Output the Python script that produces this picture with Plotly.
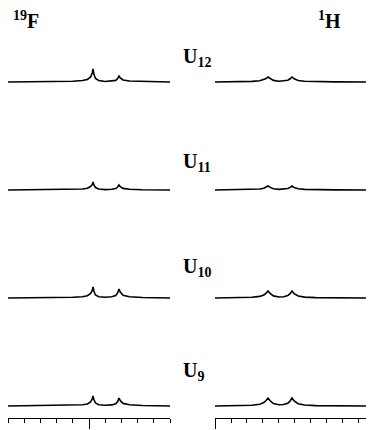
import plotly.graph_objects as go

# stacked spectra, 19F on the left and 1H on the right, U12 at top .. U9 at bottom
labels = ["U<sub>12</sub>", "U<sub>11</sub>", "U<sub>10</sub>", "U<sub>9</sub>"]
stack = [3, 2, 1, 0]  # vertical slot for each residue

# 19F chemical shift axis (arbitrary units, long tick at 0)
f_x = [-5.0, -2.0, -1.0, -0.4, -0.1, 0.1, 0.2, 0.25, 0.3, 0.4, 0.6,
       1.0, 1.4, 1.65, 1.77, 1.85, 1.93, 2.1, 2.5, 3.3, 5.0]
f_u12 = [0, 0.3, 0.8, 1.5, 2.5, 5, 9, 13, 8, 3.5, 1.5, 0.5, 0.8, 1.6, 3.5, 6, 4, 2, 1, 0.5, 0]
f_u11 = [0, 0.2, 0.5, 1, 1.8, 3.5, 5.5, 8, 5, 2.5, 1, 0.4, 0.7, 1.4, 3, 5, 3.3, 1.6, 0.8, 0.3, 0]
f_u10 = [0, 0.3, 0.7, 1.3, 2.3, 4.5, 7.5, 11, 7, 3, 1.3, 0.7, 1.2, 2.4, 5, 9, 6, 2.8, 1.3, 0.5, 0]
f_u9 = [0, 0.3, 0.6, 1.2, 2, 4, 7, 10, 6.5, 3, 1.3, 0.7, 1.1, 2.2, 4.5, 8, 5.5, 2.6, 1.2, 0.5, 0]

# 1H axis
h_x = [0, 1.5, 2.3, 2.8, 3.05, 3.2, 3.31, 3.45, 3.65, 4.0, 4.3, 4.55, 4.7,
       4.81, 4.95, 5.2, 5.6, 6.3, 7.5, 9.94]
h_u12 = [0, 0.2, 0.6, 1.2, 2.2, 3.5, 5, 3.3, 1.6, 0.8, 1.0, 1.8, 3.2, 5, 3.2, 1.5, 0.7, 0.3, 0.1, 0]
h_u11 = [0, 0.2, 0.5, 1.0, 1.8, 2.8, 4, 2.6, 1.3, 0.6, 0.8, 1.5, 2.6, 4, 2.6, 1.2, 0.6, 0.2, 0.1, 0]
h_u10 = [0, 0.3, 0.7, 1.6, 3.0, 4.8, 7, 4.6, 2.1, 1.0, 1.3, 2.5, 4.4, 7, 4.4, 2.0, 0.9, 0.4, 0.1, 0]
h_u9 = [0, 0.3, 0.8, 1.8, 3.5, 5.5, 8, 5.2, 2.4, 1.2, 1.5, 2.8, 5, 8, 5, 2.3, 1, 0.4, 0.1, 0]

f_ticks = [-5, -4, -3, -2, -1, 0, 1, 2, 3, 4, 5]
h_ticks = [0, 1, 2, 3, 4, 5, 6, 7, 8, 9]

gap = 108  # spacing between stacked spectra, in intensity units

# page body adds an 8px margin, so the figure is drawn 8px smaller
W, H = 366, 422
serif = "Liberation Serif, Times New Roman, serif"
label_px = [49, 154, 259, 363]  # vertical centre of each U label (figure pixels)

fig = go.Figure()
for slot, fy, hy in zip(stack, [f_u12, f_u11, f_u10, f_u9], [h_u12, h_u11, h_u10, h_u9]):
    fig.add_trace(go.Scatter(x=f_x, y=[v + slot * gap for v in fy], mode="lines",
                             line=dict(color="black", width=1.6), xaxis="x", yaxis="y",
                             showlegend=False, hoverinfo="skip"))
    fig.add_trace(go.Scatter(x=h_x, y=[v + slot * gap for v in hy], mode="lines",
                             line=dict(color="black", width=1.6), xaxis="x2", yaxis="y",
                             showlegend=False, hoverinfo="skip"))

annotations = []
for py, lab in zip(label_px, labels):
    annotations.append(dict(text="<b>" + lab + "</b>", x=173 / W, xref="paper", xanchor="left",
                            y=1 - py / H, yref="paper", yanchor="middle", showarrow=False,
                            font=dict(family=serif, size=20, color="black")))
annotations.append(dict(text="<b><sup>19</sup>F</b>", x=3 / W, xref="paper", xanchor="left",
                        y=1 - 12 / H, yref="paper", yanchor="middle", showarrow=False,
                        font=dict(family=serif, size=20, color="black")))
annotations.append(dict(text="<b><sup>1</sup>H</b>", x=308 / W, xref="paper", xanchor="left",
                        y=1 - 12 / H, yref="paper", yanchor="middle", showarrow=False,
                        font=dict(family=serif, size=20, color="black")))

def spec_axis(domain, rng, ticks):
    return dict(domain=domain, range=rng, anchor="y", showline=True, linecolor="black",
                linewidth=1, showgrid=False, zeroline=False, showticklabels=False,
                ticks="outside", tickvals=[0], ticklen=10, tickwidth=1, tickcolor="black",
                minor=dict(ticks="outside", tickvals=ticks, ticklen=4, tickwidth=1,
                           tickcolor="black", showgrid=False))

fig.update_layout(
    width=W, height=H, margin=dict(l=0, r=0, t=0, b=0),
    paper_bgcolor="white", plot_bgcolor="white",
    xaxis=spec_axis([0, 162 / W], [-5, 5], f_ticks),
    xaxis2=spec_axis([207 / W, 1.0], [0, 9.94], h_ticks),
    yaxis=dict(domain=[12 / H, 1], range=[-12, 398], visible=False),
    annotations=annotations,
)

fig.write_html("out.html")
